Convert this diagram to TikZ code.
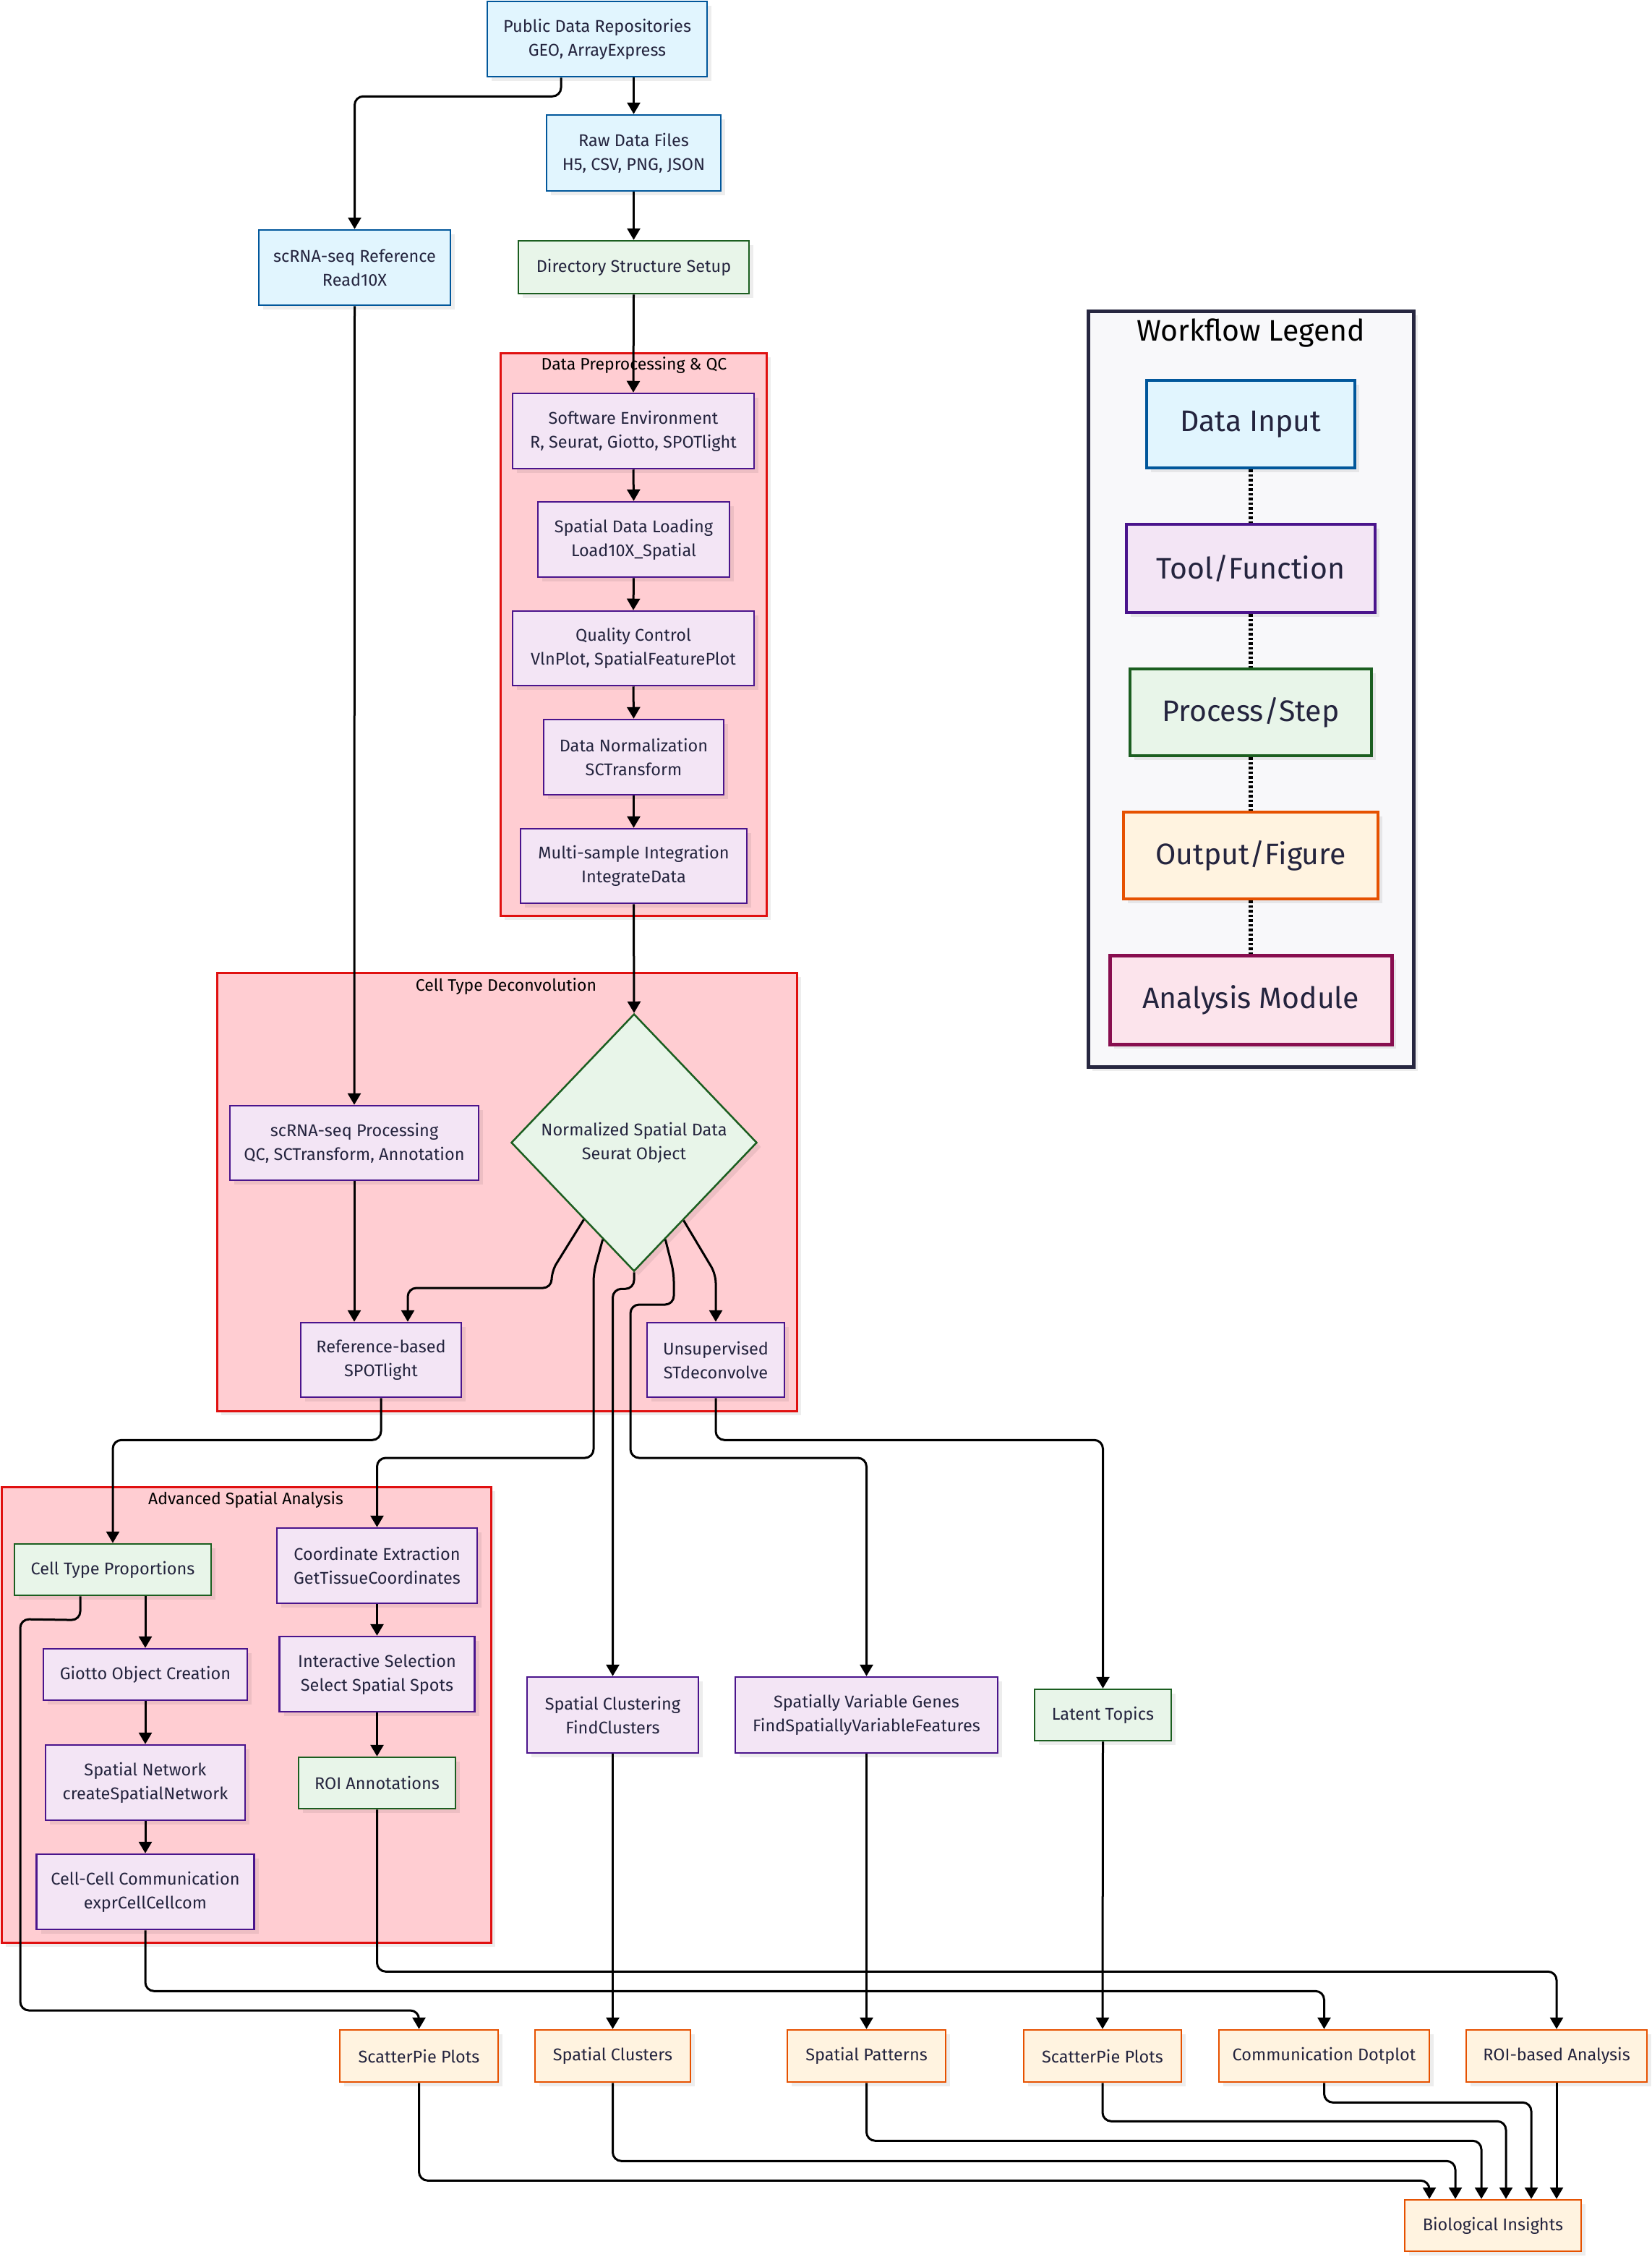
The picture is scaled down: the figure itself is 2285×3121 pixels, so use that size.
\documentclass[tikz,border=0pt]{standalone}
\usepackage{fontspec}
\setmainfont{Fira Sans}
\usetikzlibrary{shapes.geometric,arrows.meta,shadows,calc}
\definecolor{inF}{HTML}{E1F5FE}\definecolor{inD}{HTML}{01579B}
\definecolor{toF}{HTML}{F3E5F5}\definecolor{toD}{HTML}{4A148C}
\definecolor{prF}{HTML}{E8F5E9}\definecolor{prD}{HTML}{1B5E20}
\definecolor{ouF}{HTML}{FFF3E0}\definecolor{ouD}{HTML}{E65100}
\definecolor{anF}{HTML}{FCE4EC}\definecolor{anD}{HTML}{880E4F}
\definecolor{clF}{HTML}{FFCDD2}\definecolor{clD}{HTML}{E01010}
\definecolor{lgF}{HTML}{F8F8FA}\definecolor{lgD}{HTML}{272740}
\definecolor{txt}{HTML}{24243E}
\tikzset{
  shd/.style={drop shadow={shadow xshift=6pt,shadow yshift=-6pt,fill=black,opacity=0.07}},
  box/.style={rectangle,draw,line width=2.5pt,inner sep=0pt,align=center,text=txt,
    font=\fontsize{23.5}{33}\selectfont,shd},
  sz/.style 2 args={minimum width=#1pt,minimum height=#2pt},
  inbox/.style={box,fill=inF,draw=inD},
  toolbox/.style={box,fill=toF,draw=toD},
  procbox/.style={box,fill=prF,draw=prD},
  outbox/.style={box,fill=ouF,draw=ouD},
  lgbox/.style={line width=4.5pt,font=\fontsize{41}{44}\selectfont},
  cluster/.style={rectangle,draw=clD,fill=clF,line width=3pt,inner sep=0pt,shd},
  ctitle/.style={inner sep=0pt,text=black,font=\fontsize{23}{26}\selectfont},
  arr/.style={line width=3pt,-{Triangle[length=16pt,width=18pt]},rounded corners=12pt},
  dotl/.style={line width=6pt,dash pattern=on 3.5pt off 3pt},
}
\begin{document}
\begin{tikzpicture}[x=1pt,y=-1pt]
\useasboundingbox (0,0) rectangle (2285,3121);
\fill[white] (0,0) rectangle (2285,3121);
% clusters
\node[cluster,sz={368}{778}] (cprep) at (876,877) {};
\node[ctitle] (tprep) at (877,505) {Data Preprocessing \& QC};
\node[cluster,sz={802}{606}] (cdec) at (701,1648) {};
\node[ctitle] (tdec) at (700,1364) {Cell Type Deconvolution};
\node[cluster,sz={677}{630}] (cadv) at (340.5,2371) {};
\node[ctitle] (tadv) at (340,2074) {Advanced Spatial Analysis};
% legend frame
\node[rectangle,draw=lgD,fill=lgF,line width=5pt,shd,sz={450}{1045}] (lgframe) at (1730,952.5) {};
\node[inner sep=0pt,text=black,font=\fontsize{41}{44}\selectfont] (lgtitle) at (1730,460) {Workflow Legend};
% nodes
\node[inbox,sz={304}{104}] (pub) at (826,54) {Public Data Repositories\\GEO, ArrayExpress};
\node[inbox,sz={241}{105}] (raw) at (876.5,211.5) {Raw Data Files\\H5, CSV, PNG, JSON};
\node[procbox,sz={319}{73}] (dir) at (876.5,369.5) {Directory Structure Setup};
\node[inbox,sz={265}{104}] (scref) at (490.5,370) {scRNA-seq Reference\\Read10X};
\node[toolbox,sz={334}{104}] (sw) at (876,596) {Software Environment\\R, Seurat, Giotto, SPOTlight};
\node[toolbox,sz={265}{104}] (load) at (876.5,746) {Spatial Data Loading\\Load10X\_Spatial};
\node[toolbox,sz={334}{103}] (qc) at (876,896.5) {Quality Control\\VlnPlot, SpatialFeaturePlot};
\node[toolbox,sz={249}{104}] (norm) at (876.5,1047) {Data Normalization\\SCTransform};
\node[toolbox,sz={313}{103}] (integ) at (876.5,1197.5) {Multi-sample Integration\\IntegrateData};
\node[diamond,aspect=0.955,draw=prD,fill=prF,line width=2.5pt,inner sep=0pt,align=center,text=txt,
  font=\fontsize{23.5}{33}\selectfont,shd,sz={340}{356}] (dia) at (877,1580) {Normalized Spatial Data\\Seurat Object};
\node[toolbox,sz={344}{103}] (scproc) at (490,1580.5) {scRNA-seq Processing\\QC, SCTransform, Annotation};
\node[toolbox,sz={222}{103}] (refsp) at (527,1880.5) {Reference-based\\SPOTlight};
\node[toolbox,sz={190}{103}] (unsup) at (990,1880.5) {Unsupervised\\STdeconvolve};
\node[procbox,sz={272}{71}] (ctp) at (156,2170.5) {Cell Type Proportions};
\node[toolbox,sz={277}{104}] (coord) at (521.5,2165) {Coordinate Extraction\\GetTissueCoordinates};
\node[toolbox,sz={282}{71}] (giotto) at (201,2315.5) {Giotto Object Creation};
\node[toolbox,sz={270}{104}] (inter) at (521.5,2315) {Interactive Selection\\Select Spatial Spots};
\node[toolbox,sz={276}{104}] (spnet) at (201,2465) {Spatial Network\\createSpatialNetwork};
\node[procbox,sz={217}{71}] (roi) at (521.5,2465.5) {ROI Annotations};
\node[toolbox,sz={301}{104}] (ccc) at (201,2616) {Cell-Cell Communication\\exprCellCellcom};
\node[toolbox,sz={237}{105}] (spclust) at (847.5,2371.5) {Spatial Clustering\\FindClusters};
\node[toolbox,sz={363}{105}] (svg) at (1198.5,2371.5) {Spatially Variable Genes\\FindSpatiallyVariableFeatures};
\node[procbox,sz={189}{71}] (latent) at (1525.5,2371.5) {Latent Topics};
\node[outbox,sz={219}{72}] (sp1) at (579.5,2843) {ScatterPie Plots};
\node[outbox,sz={215}{72}] (sclu) at (847.5,2843) {Spatial Clusters};
\node[outbox,sz={219}{72}] (spat) at (1198.5,2843) {Spatial Patterns};
\node[outbox,sz={218}{72}] (sp2) at (1525,2843) {ScatterPie Plots};
\node[outbox,sz={291}{72}] (dot) at (1831.5,2843) {Communication Dotplot};
\node[outbox,sz={250}{72}] (roib) at (2153,2843) {ROI-based Analysis};
\node[outbox,sz={244}{71}] (bio) at (2065,3077.5) {Biological Insights};
% legend items
\node[inbox,lgbox,sz={288}{121}] (li1) at (1730,586.5) {Data Input};
\node[toolbox,lgbox,sz={344}{122}] (li2) at (1730,786) {Tool/Function};
\node[procbox,lgbox,sz={334}{120}] (li3) at (1730,985) {Process/Step};
\node[outbox,lgbox,sz={352}{120}] (li4) at (1730,1183) {Output/Figure};
\node[box,lgbox,fill=anF,draw=anD,line width=5pt,sz={390}{123}] (li5) at (1730,1382.5) {Analysis Module};
\draw[dotl] (li1.south) -- (li2.north);
\draw[dotl] (li2.south) -- (li3.north);
\draw[dotl] (li3.south) -- (li4.north);
\draw[dotl] (li4.south) -- (li5.north);
% edges
\draw[arr] (raw.north |- pub.south) -- (raw.north);
\draw[arr] ([xshift=-50pt]pub.south) -- ++(0,26) -| (scref.north);
\draw[arr] (raw.south) -- (dir.north);
\draw[arr] (dir.south) -- (sw.north);
\draw[arr] (sw.south) -- (load.north);
\draw[arr] (load.south) -- (qc.north);
\draw[arr] (qc.south) -- (norm.north);
\draw[arr] (norm.south) -- (integ.north);
\draw[arr] (integ.south) -- (dia.north);
\draw[arr] (scref.south) -- (scproc.north);
\draw[arr] (scproc.south) -- (scproc.south |- refsp.north);
\coordinate (d1) at ($(dia.south)!0.406!(dia.west)$);
\coordinate (d2) at ($(dia.south)!0.253!(dia.west)$);
\coordinate (d4) at ($(dia.south)!0.253!(dia.east)$);
\coordinate (d5) at ($(dia.south)!0.40!(dia.east)$);
\draw[arr] (d1) -- (763,1758) -- (763,1781) -- (564,1781) -- ([xshift=37pt]refsp.north);
\draw[arr] (d2) -- (821,1760) -- (821,2016) -| (coord.north);
\draw[arr] (dia.south) -- ++(0,23) -| (spclust.north);
\draw[arr] (d4) -- (932,1760) -- (932,1804) -- (872,1804) -- (872,2016) -| (svg.north);
\draw[arr] (d5) -- (990,1762) -- (unsup.north);
\draw[arr] (refsp.south) -- ++(0,58) -| (ctp.north);
\draw[arr] (unsup.south) -- ++(0,58) -| (latent.north);
\draw[arr] (ctp.south -| giotto.north) -- (giotto.north);
\draw[arr] ([xshift=-45pt]ctp.south) -- ++(0,33) -- (28,2239) -- (28,2780) -| (sp1.north);
\draw[arr] (giotto.south) -- (spnet.north);
\draw[arr] (spnet.south) -- (ccc.north);
\draw[arr] (coord.south) -- (inter.north);
\draw[arr] (inter.south) -- (roi.north);
\draw[arr] (ccc.south) -- ++(0,84) -| (dot.north);
\draw[arr] (roi.south) -- ++(0,224) -| (roib.north);
\draw[arr] (spclust.south) -- (sclu.north);
\draw[arr] (svg.south) -- (spat.north);
\draw[arr] (latent.south) -- (sp2.north);
\draw[arr] (sp1.south) -- ++(0,135) -| ([xshift=-88pt]bio.north);
\draw[arr] (sclu.south) -- ++(0,108) -| ([xshift=-52pt]bio.north);
\draw[arr] (spat.south) -- ++(0,80) -| ([xshift=-16pt]bio.north);
\draw[arr] (sp2.south) -- ++(0,53) -| ([xshift=18pt]bio.north);
\draw[arr] (dot.south) -- ++(0,27) -| ([xshift=53pt]bio.north);
\draw[arr] (roib.south) -- (roib.south |- bio.north);
\end{tikzpicture}
\end{document}
